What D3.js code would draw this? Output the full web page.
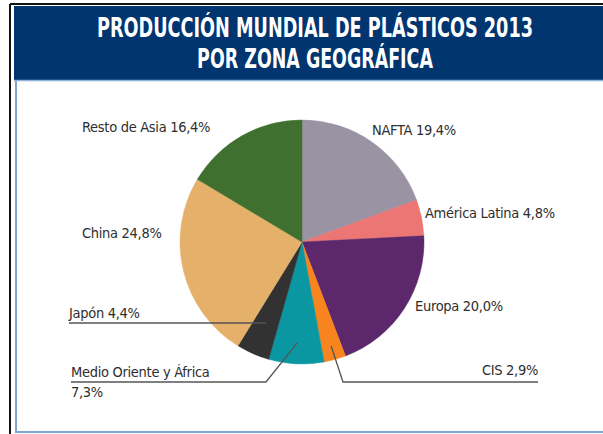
<!DOCTYPE html>
<html>
<head>
<meta charset="utf-8">
<script src="https://cdn.jsdelivr.net/npm/d3@7"></script>
<style>
  body { margin: 0; background: #fff; }
  svg { display: block; }
</style>
</head>
<body>
<div id="container"></div>
<script>
// data
const regions = ["NAFTA", "América Latina", "Europa", "CIS", "Medio Oriente y África", "Japón", "China", "Resto de Asia"];
const shares = [19.4, 4.8, 20.0, 2.9, 7.3, 4.4, 24.8, 16.4];
const sliceColors = ["#9a93a4", "#eb7673", "#5d276b", "#f7841f", "#0a97a1", "#323232", "#e5b06a", "#40702f"];
const titleLines = ["PRODUCCIÓN MUNDIAL DE PLÁSTICOS 2013", "POR ZONA GEOGRÁFICA"];

const width = 603, height = 434;
const cx = 302, cy = 242, radius = 122;

const fmt = v => d3.format(".1f")(v).replace(".", ",") + "%";

// where each label sits (text layout only)
const labelLayout = {
  "NAFTA":                  { x: 372, y: 135, anchor: "start" },
  "América Latina":         { x: 425, y: 218, anchor: "start" },
  "Europa":                 { x: 415, y: 311, anchor: "start" },
  "CIS":                    { x: 538, y: 375, anchor: "end", leader: { r: 108, x: 343, y: 382, to: 538 } },
  "Medio Oriente y África": { x: 71,  y: 377, anchor: "start", wrap: true, leader: { r: 101, x: 266, y: 382, to: 71 } },
  "Japón":                  { x: 69,  y: 318, anchor: "start", leader: { r: 89, x: 265, y: 323, to: 69, straight: true } },
  "China":                  { x: 82,  y: 238, anchor: "start" },
  "Resto de Asia":          { x: 82,  y: 132, anchor: "start" }
};

const svg = d3.select("#container").append("svg")
  .attr("width", width)
  .attr("height", height);

// frame
svg.append("rect").attr("x", 0).attr("y", 0).attr("width", width).attr("height", height).attr("fill", "#fff");
svg.append("line").attr("x1", 10).attr("x2", width).attr("y1", 4).attr("y2", 4)
  .attr("stroke", "#111").attr("stroke-width", 2);
svg.append("line").attr("x1", 10).attr("x2", 10).attr("y1", 4).attr("y2", height)
  .attr("stroke", "#111").attr("stroke-width", 2);
svg.append("line").attr("x1", 16).attr("x2", 16).attr("y1", 80).attr("y2", 432)
  .attr("stroke", "#7ea5cc").attr("stroke-width", 2);
svg.append("line").attr("x1", 15).attr("x2", width).attr("y1", 432).attr("y2", 432)
  .attr("stroke", "#7ea5cc").attr("stroke-width", 2);

// header
svg.append("rect")
  .attr("x", 14).attr("y", 6)
  .attr("width", width - 14).attr("height", 74)
  .attr("fill", "#00356f");
svg.append("line").attr("x1", 14).attr("x2", width).attr("y1", 80.5).attr("y2", 80.5)
  .attr("stroke", "#8fb3d6").attr("stroke-width", 1.5);

// title: condensed look by squeezing each line horizontally to its width in the original
const titleWidths = [436, 236];
svg.selectAll("text.title")
  .data(titleLines)
  .join("text")
  .attr("class", "title")
  .attr("x", 0)
  .attr("y", 0)
  .attr("text-anchor", "middle")
  .style("font-family", "'DejaVu Sans', sans-serif")
  .style("font-weight", "bold")
  .style("font-size", "26px")
  .style("fill", "#fff")
  .text(d => d)
  .each(function(_, i) {
    const w = this.getComputedTextLength();
    const s = titleWidths[i] / w;
    d3.select(this).attr("transform", `translate(315,${37 + i * 31}) scale(${s},1)`);
  });

// pie
const pie = d3.pie().sort(null).value(d => d.value);
const arcs = pie(regions.map((r, i) => ({ name: r, value: shares[i], color: sliceColors[i] })));
const arcGen = d3.arc().innerRadius(0).outerRadius(radius);

const g = svg.append("g").attr("transform", `translate(${cx},${cy})`);
g.selectAll("path.slice")
  .data(arcs)
  .join("path")
  .attr("class", "slice")
  .attr("d", arcGen)
  .attr("fill", d => d.data.color)
  .attr("stroke", d => d.data.color)
  .attr("stroke-width", 0.5);

// leader lines
arcs.forEach(d => {
  const lay = labelLayout[d.data.name];
  if (!lay.leader) return;
  const L = lay.leader;
  const p = d3.arc().innerRadius(L.r).outerRadius(L.r).centroid(d);
  const pts = L.straight
    ? [[cx + p[0], L.y], [L.to, L.y]]
    : [[cx + p[0], cy + p[1]], [L.x, L.y], [L.to, L.y]];
  svg.append("path")
    .attr("d", d3.line()(pts))
    .attr("fill", "none")
    .attr("stroke", "#555")
    .attr("stroke-width", 1.3);
});

// labels
arcs.forEach(d => {
  const lay = labelLayout[d.data.name];
  const t = svg.append("text")
    .attr("x", lay.x)
    .attr("y", lay.y)
    .attr("text-anchor", lay.anchor)
    .style("font-family", "'DejaVu Sans Condensed', 'Liberation Sans Narrow', sans-serif")
    .style("font-size", "14.5px")
    .style("letter-spacing", "-0.3px")
    .style("fill", "#2e2e2e");
  if (lay.wrap) {
    t.append("tspan").text(d.data.name);
    t.append("tspan").attr("x", lay.x).attr("dy", 20).text(fmt(d.data.value));
  } else {
    t.text(d.data.name + " " + fmt(d.data.value));
  }
});
</script>
</body>
</html>
